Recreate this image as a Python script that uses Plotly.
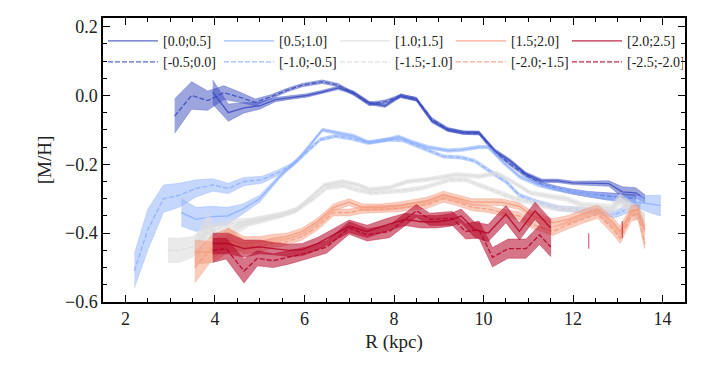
import plotly.graph_objects as go

FONT = "Liberation Serif, Times New Roman, serif"

# ---------------- data ----------------
# [0.0;0.5]  solid dark blue
R1 = [3.95, 4.3, 4.65, 5.0, 5.35, 5.7, 6.05, 6.4, 6.75, 7.1, 7.45, 7.8, 8.15, 8.5, 8.85, 9.2, 9.55, 9.9,
      10.25, 10.6, 10.95, 11.3, 11.65, 12.0, 12.35, 12.8, 13.1, 13.4, 13.6]
Y1 = [0.01, -0.05, -0.036, -0.03, -0.012, -0.006, 0.0, 0.01, 0.022, 0.008, -0.022, -0.03, 0.0, -0.012,
      -0.075, -0.1, -0.108, -0.108, -0.16, -0.19, -0.228, -0.248, -0.248, -0.254, -0.255, -0.256, -0.28,
      -0.283, -0.3]
E1 = [0.035, 0.025, 0.015, 0.01, 0.006, 0.005, 0.005, 0.005, 0.005, 0.005, 0.005, 0.005, 0.005, 0.005,
      0.005, 0.005, 0.005, 0.005, 0.005, 0.005, 0.005, 0.005, 0.005, 0.005, 0.006, 0.008, 0.015, 0.015, 0.012]

# [-0.5;0.0]  dashed dark blue
R2 = [3.1, 3.48, 3.84, 4.2, 4.55, 4.9, 5.25, 5.6, 5.95, 6.4, 6.75, 7.1, 7.45, 7.8, 8.15, 8.5, 8.85, 9.2,
      9.55, 9.9, 10.25, 10.6, 10.95, 11.3, 11.65, 12.0, 12.35, 12.7, 13.05, 13.4]
Y2 = [-0.06, 0.0, -0.015, 0.008, -0.005, -0.02, -0.004, 0.015, 0.03, 0.04, 0.03, 0.005, -0.025, -0.018,
      -0.002, -0.01, -0.07, -0.098, -0.108, -0.11, -0.165, -0.2, -0.232, -0.258, -0.27, -0.28, -0.287,
      -0.292, -0.296, -0.3]
E2 = [0.05, 0.04, 0.028, 0.02, 0.015, 0.01, 0.006, 0.005, 0.005, 0.005, 0.005, 0.005, 0.005, 0.005, 0.005,
      0.005, 0.005, 0.005, 0.005, 0.005, 0.005, 0.005, 0.006, 0.006, 0.006, 0.007, 0.008, 0.01, 0.012, 0.012]

# [0.5;1.0]  solid light blue
R3 = [3.25, 3.58, 3.92, 4.28, 4.62, 5.0, 5.45, 5.9, 6.4, 6.75, 7.1, 7.45, 7.8, 8.1, 8.4, 8.75, 9.2, 9.5,
      9.9, 10.1, 10.45, 10.8, 11.2, 11.55, 12.0, 12.5, 13.0, 13.4, 13.7, 13.95]
Y3 = [-0.34, -0.36, -0.352, -0.35, -0.33, -0.3, -0.235, -0.18, -0.1, -0.11, -0.118, -0.137, -0.13, -0.12,
      -0.135, -0.15, -0.16, -0.158, -0.15, -0.15, -0.195, -0.235, -0.258, -0.27, -0.28, -0.29, -0.3, -0.31,
      -0.315, -0.32]
E3 = [0.04, 0.035, 0.03, 0.025, 0.015, 0.01, 0.006, 0.006, 0.005, 0.005, 0.005, 0.005, 0.005, 0.005, 0.005,
      0.005, 0.005, 0.005, 0.005, 0.005, 0.006, 0.006, 0.006, 0.006, 0.007, 0.008, 0.01, 0.015, 0.025, 0.03]

# [-1.0;-0.5]  dashed light blue
R4 = [2.2, 2.5, 2.85, 3.2, 3.58, 3.95, 4.3, 4.65, 5.05, 5.4, 5.75, 6.05, 6.35, 6.7, 7.05, 7.4, 7.85, 8.2,
      8.6, 9.1, 9.5, 9.8, 10.2, 10.5, 10.8, 11.2, 11.7, 12.1, 12.45, 12.95, 13.2, 13.5]
Y4 = [-0.51, -0.39, -0.3, -0.29, -0.27, -0.26, -0.27, -0.25, -0.245, -0.225, -0.2, -0.165, -0.128, -0.118,
      -0.125, -0.137, -0.128, -0.13, -0.15, -0.177, -0.18, -0.19, -0.225, -0.25, -0.29, -0.31, -0.328,
      -0.332, -0.335, -0.345, -0.33, -0.32]
E4 = [0.05, 0.06, 0.04, 0.035, 0.025, 0.018, 0.015, 0.012, 0.01, 0.008, 0.006, 0.006, 0.005, 0.005, 0.005,
      0.005, 0.005, 0.005, 0.005, 0.005, 0.005, 0.005, 0.006, 0.006, 0.006, 0.006, 0.007, 0.007, 0.008,
      0.01, 0.012, 0.012]

# [1.0;1.5]  solid grey
R5 = [3.55, 3.85, 4.15, 4.45, 4.75, 5.1, 5.45, 5.8, 6.1, 6.45, 6.85, 7.2, 7.45, 7.9, 8.3, 8.7, 9.05, 9.4,
      9.9, 10.3, 10.7, 11.05, 11.5, 11.85, 12.2, 12.55, 12.85, 13.05, 13.35, 13.6]
Y5 = [-0.455, -0.37, -0.45, -0.39, -0.37, -0.36, -0.35, -0.335, -0.3, -0.26, -0.25, -0.26, -0.273, -0.268,
      -0.25, -0.245, -0.238, -0.23, -0.235, -0.226, -0.255, -0.283, -0.293, -0.3, -0.318, -0.322, -0.326,
      -0.297, -0.33, -0.37]
E5 = [0.04, 0.03, 0.02, 0.015, 0.01, 0.008, 0.007, 0.007, 0.006, 0.006, 0.006, 0.006, 0.006, 0.006, 0.006,
      0.006, 0.006, 0.006, 0.006, 0.006, 0.006, 0.006, 0.007, 0.007, 0.008, 0.008, 0.01, 0.012, 0.015, 0.025]

# [-1.5;-1.0]  dashed grey
R6 = [2.95, 3.2, 3.5, 3.8, 4.1, 4.45, 4.8, 5.15, 5.5, 5.85, 6.2, 6.5, 6.85, 7.2, 7.5, 7.9, 8.3, 8.65, 9.0,
      9.25, 9.6, 9.9, 10.3, 10.7, 11.05, 11.55, 11.9, 12.3, 12.85, 13.05, 13.35, 13.6]
Y6 = [-0.45, -0.45, -0.44, -0.4, -0.385, -0.37, -0.365, -0.355, -0.345, -0.33, -0.3, -0.268, -0.262,
      -0.275, -0.283, -0.28, -0.275, -0.268, -0.255, -0.245, -0.245, -0.26, -0.28, -0.3, -0.31, -0.326,
      -0.33, -0.335, -0.335, -0.31, -0.34, -0.36]
E6 = [0.036, 0.035, 0.03, 0.02, 0.015, 0.012, 0.009, 0.008, 0.007, 0.007, 0.006, 0.006, 0.006, 0.006,
      0.006, 0.006, 0.006, 0.006, 0.006, 0.006, 0.006, 0.006, 0.006, 0.007, 0.007, 0.008, 0.008, 0.009,
      0.01, 0.012, 0.015, 0.02]

# [1.5;2.0]  solid salmon
R7 = [3.55, 3.95, 4.3, 4.65, 5.0, 5.3, 5.6, 5.95, 6.3, 6.65, 7.0, 7.3, 7.7, 8.1, 8.45, 8.75, 9.1, 9.4,
      9.75, 10.1, 10.4, 10.8, 11.1, 11.55, 11.9, 12.2, 12.55, 12.9, 13.05, 13.3, 13.45, 13.6]
Y7 = [-0.455, -0.455, -0.42, -0.43, -0.425, -0.415, -0.41, -0.395, -0.365, -0.325, -0.31, -0.325, -0.325,
      -0.32, -0.312, -0.305, -0.288, -0.298, -0.31, -0.31, -0.31, -0.322, -0.35, -0.37, -0.36, -0.345,
      -0.33, -0.37, -0.395, -0.335, -0.33, -0.39]
E7 = [0.035, 0.03, 0.035, 0.02, 0.015, 0.012, 0.01, 0.01, 0.01, 0.01, 0.01, 0.01, 0.01, 0.01, 0.01, 0.01,
      0.01, 0.01, 0.01, 0.01, 0.01, 0.01, 0.012, 0.012, 0.012, 0.012, 0.012, 0.015, 0.015, 0.015, 0.015,
      0.015]

# [-2.0;-1.5]  dashed salmon
R8 = [3.55, 3.95, 4.3, 4.65, 5.0, 5.3, 5.6, 5.95, 6.3, 6.65, 7.0, 7.3, 7.7, 8.1, 8.45, 8.75, 9.1, 9.4,
      9.75, 10.1, 10.4, 10.8, 11.1, 11.55, 11.9, 12.2, 12.55, 12.9, 13.05, 13.3, 13.45, 13.6]
Y8 = [-0.5, -0.44, -0.41, -0.44, -0.44, -0.43, -0.425, -0.41, -0.38, -0.34, -0.34, -0.332, -0.33, -0.328,
      -0.322, -0.318, -0.3, -0.31, -0.325, -0.33, -0.34, -0.35, -0.375, -0.395, -0.375, -0.36, -0.345,
      -0.39, -0.415, -0.35, -0.345, -0.43]
E8 = [0.045, 0.035, 0.025, 0.02, 0.015, 0.012, 0.01, 0.01, 0.01, 0.01, 0.01, 0.01, 0.01, 0.01, 0.01, 0.01,
      0.01, 0.01, 0.01, 0.01, 0.01, 0.012, 0.012, 0.012, 0.012, 0.012, 0.012, 0.015, 0.015, 0.015, 0.015,
      0.015]

# [2.0;2.5]  solid dark red
R9 = [3.95, 4.3, 4.65, 5.0, 5.3, 5.65, 5.95, 6.3, 6.65, 7.0, 7.4, 7.85, 8.25, 8.6, 8.95, 9.25, 9.5, 9.8,
      10.1, 10.5, 10.8, 11.15, 11.5]
Y9 = [-0.43, -0.43, -0.445, -0.44, -0.445, -0.45, -0.448, -0.43, -0.405, -0.38, -0.395, -0.375, -0.36,
      -0.367, -0.367, -0.362, -0.35, -0.39, -0.4, -0.345, -0.395, -0.335, -0.385]
E9 = [0.03, 0.03, 0.025, 0.02, 0.018, 0.018, 0.018, 0.018, 0.018, 0.018, 0.018, 0.018, 0.018, 0.018, 0.018,
      0.018, 0.02, 0.022, 0.025, 0.025, 0.025, 0.025, 0.025]

# [-2.5;-2.0]  dashed dark red
R10 = [3.95, 4.25, 4.65, 4.95, 5.3, 5.65, 6.05, 6.5, 7.0, 7.4, 7.9, 8.1, 8.5, 8.8, 9.3, 9.6, 9.9, 10.2,
       10.55, 10.95, 11.25, 11.5]
Y10 = [-0.45, -0.445, -0.51, -0.473, -0.48, -0.47, -0.458, -0.44, -0.385, -0.405, -0.395, -0.375, -0.335,
       -0.36, -0.357, -0.395, -0.39, -0.47, -0.445, -0.445, -0.405, -0.44]
E10 = [0.035, 0.03, 0.035, 0.022, 0.02, 0.02, 0.018, 0.018, 0.018, 0.018, 0.018, 0.018, 0.018, 0.018, 0.02,
       0.022, 0.025, 0.028, 0.028, 0.028, 0.028, 0.028]

# isolated single-bin dark red ranges
ISO_R = [12.35, 13.1]
ISO_LO = [-0.445, -0.415]
ISO_HI = [-0.40, -0.365]

LABELS_SOLID = ["[0.0;0.5]", "[0.5;1.0]", "[1.0;1.5]", "[1.5;2.0]", "[2.0;2.5]"]
LABELS_DASH = ["[-0.5;0.0]", "[-1.0;-0.5]", "[-1.5;-1.0]", "[-2.0;-1.5]", "[-2.5;-2.0]"]

X_TICKS = [2, 4, 6, 8, 10, 12, 14]
Y_TICKS = [-0.6, -0.4, -0.2, 0.0, 0.2]

# ---------------- styling ----------------
C_DB = (59, 76, 192)
C_LB = (141, 176, 254)
C_GR = (221, 220, 220)
C_OR = (244, 154, 123)
C_RD = (180, 4, 38)
BAND_ALPHA = {C_DB: 0.5, C_LB: 0.5, C_GR: 0.6, C_OR: 0.5, C_RD: 0.55}


def rgba(c, a):
    return f"rgba({c[0]},{c[1]},{c[2]},{a})"


series = [
    (LABELS_SOLID[0], R1, Y1, E1, C_DB, "solid", "legend"),
    (LABELS_DASH[0], R2, Y2, E2, C_DB, "dash", "legend2"),
    (LABELS_SOLID[1], R3, Y3, E3, C_LB, "solid", "legend"),
    (LABELS_DASH[1], R4, Y4, E4, C_LB, "dash", "legend2"),
    (LABELS_SOLID[2], R5, Y5, E5, C_GR, "solid", "legend"),
    (LABELS_DASH[2], R6, Y6, E6, C_GR, "dash", "legend2"),
    (LABELS_SOLID[3], R7, Y7, E7, C_OR, "solid", "legend"),
    (LABELS_DASH[3], R8, Y8, E8, C_OR, "dash", "legend2"),
    (LABELS_SOLID[4], R9, Y9, E9, C_RD, "solid", "legend"),
    (LABELS_DASH[4], R10, Y10, E10, C_RD, "dash", "legend2"),
]

fig = go.Figure()
for name, R, Y, E, col, dash, leg in series:
    lo = [v - h for v, h in zip(Y, E)]
    hi = [v + h for v, h in zip(Y, E)]
    fig.add_trace(go.Scatter(
        x=R + R[::-1], y=hi + lo[::-1], mode="lines", fill="toself",
        fillcolor=rgba(col, BAND_ALPHA[col]), line=dict(color=rgba(col, 0.45), width=0.8),
        showlegend=False, hoverinfo="skip"))
    fig.add_trace(go.Scatter(
        x=R, y=Y, mode="lines", name=name, legend=leg,
        line=dict(color=rgba(col, 0.85), width=1.4,
                  dash="solid" if dash == "solid" else "5px,2px")))

for r, lo, hi in zip(ISO_R, ISO_LO, ISO_HI):
    fig.add_trace(go.Scatter(x=[r, r], y=[lo, hi], mode="lines",
                             line=dict(color=rgba(C_RD, 0.6), width=1.2),
                             showlegend=False, hoverinfo="skip"))

leg_common = dict(orientation="h", xanchor="left", yanchor="middle",
                  entrywidth=51, entrywidthmode="pixels", itemwidth=50,
                  font=dict(family=FONT, size=14, color="#222"),
                  bgcolor="rgba(0,0,0,0)", borderwidth=0, tracegroupgap=0)

axis_common = dict(showline=True, linecolor="black", linewidth=1.5, mirror="allticks",
                   ticks="inside", ticklen=7, tickwidth=1, tickcolor="black",
                   showgrid=False, zeroline=False, automargin=False,
                   tickfont=dict(family=FONT, size=18, color="#222"))

# The page body has an 8px default margin, so the figure is drawn 8px right/down:
# size and margins are reduced by that amount so the plot area lands where intended.
fig.update_layout(
    width=704, height=360,
    margin=dict(l=95, r=27, t=10, b=66),
    plot_bgcolor="white", paper_bgcolor="white",
    font=dict(family=FONT),
    legend=dict(x=0.0, y=0.918, **leg_common),
    legend2=dict(x=0.0, y=0.844, **leg_common),
    xaxis=dict(range=[1.5, 14.5], tickvals=X_TICKS,
               minor=dict(dtick=0.5, tick0=0, ticks="inside", ticklen=4, tickcolor="black"),
               title=dict(text="R (kpc)", font=dict(family=FONT, size=19, color="#222"), standoff=6),
               **axis_common),
    yaxis=dict(range=[-0.6, 0.225], tickvals=Y_TICKS, tickformat=".1f",
               minor=dict(dtick=0.05, tick0=0, ticks="inside", ticklen=4, tickcolor="black"),
               title=dict(text="[M/H]", font=dict(family=FONT, size=19, color="#222"), standoff=8),
               **axis_common),
)

fig.write_html("out.html")
